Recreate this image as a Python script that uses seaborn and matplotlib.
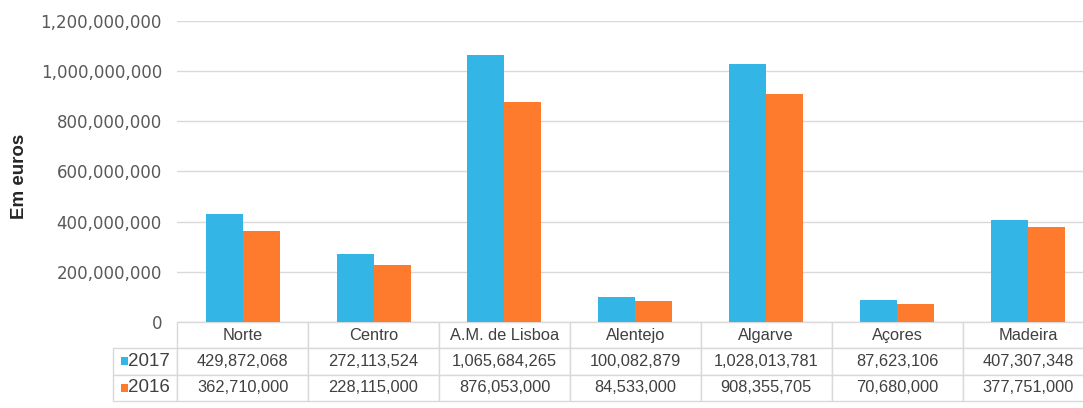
import matplotlib
matplotlib.use("Agg")
import matplotlib.pyplot as plt
import matplotlib.ticker as mticker
from matplotlib.patches import Rectangle
import seaborn as sns
import pandas as pd

regions = ["Norte", "Centro", "A.M. de Lisboa", "Alentejo", "Algarve", "Açores", "Madeira"]
years = ["2017", "2016"]
values_2017 = [429872068, 272113524, 1065684265, 100082879, 1028013781, 87623106, 407307348]
values_2016 = [362710000, 228115000, 876053000, 84533000, 908355705, 70680000, 377751000]
colors = ["#33b5e6", "#fe7a2d"]
y_ticks = [0, 200000000, 400000000, 600000000, 800000000, 1000000000, 1200000000]
y_label = "Em euros"

df = pd.DataFrame({
    "region": regions * 2,
    "year": [years[0]] * len(regions) + [years[1]] * len(regions),
    "value": values_2017 + values_2016,
})

sns.set_style("white")
plt.rcParams["font.family"] = ["DejaVu Sans"]

fig = plt.figure(figsize=(10.83, 4.08), dpi=100)
ax = fig.add_axes([0.1636, 0.2108, 0.8461, 0.7382])

sns.barplot(data=df, x="region", y="value", hue="year", hue_order=years,
            order=regions, palette=colors, saturation=1, width=0.565,
            legend=False, ax=ax, errorbar=None, linewidth=0)

ax.set_xlim(-0.5, len(regions) - 0.5)
ax.set_ylim(0, 1.2e9)
ax.set_yticks(y_ticks)
ax.yaxis.set_major_formatter(mticker.FuncFormatter(lambda v, p: f"{int(v):,}"))
ax.tick_params(axis="y", length=0, pad=11, labelsize=12, labelcolor="#595959")
ax.set_xticks([])
ax.set_xlabel("")
ax.set_ylabel(y_label, fontsize=13.5, fontweight="bold", color="#262626",
              family="Liberation Sans")
ax.yaxis.set_label_coords(-0.163, 0.483)
ax.grid(axis="y", color="#d9d9d9", linewidth=1)
ax.set_axisbelow(True)
for s in ax.spines.values():
    s.set_visible(False)

# data table
fmt = lambda v: f"{v:,}"
cell_text = [[""] + regions,
             [""] + [fmt(v) for v in values_2017],
             [""] + [fmt(v) for v in values_2016]]
first_w = (177.2 - 113) / 916.3
col_widths = [first_w] + [1 / len(regions)] * len(regions)
tab_h = 79 / 301.2
tbl = ax.table(cellText=cell_text, colWidths=col_widths, cellLoc="center",
               bbox=[-first_w, -tab_h, 1 + first_w, tab_h])
tbl.auto_set_font_size(False)
tbl.set_fontsize(11.8)
for (r, c), cell in tbl.get_celld().items():
    cell.set_edgecolor("#d9d9d9")
    cell.set_linewidth(1)
    cell.get_text().set_color("#404040")
    cell.get_text().set_family("Liberation Sans")
    if r == 0 and c == 0:
        cell.visible_edges = ""

# row labels with colored squares
px_x = 1 / 916.3
px_y = 1 / 301.2
row_centers = [-(tab_h * 1.5 / 3), -(tab_h * 2.5 / 3)]
for yr, col, yc in zip(years, colors, row_centers):
    ax.add_patch(Rectangle((-(177.2 - 121.5) * px_x, yc - 4 * px_y), 7 * px_x, 8 * px_y,
                           transform=ax.transAxes, facecolor=col, edgecolor="none",
                           clip_on=False))
    ax.text(-(177.2 - 128.5) * px_x, yc, yr, transform=ax.transAxes, ha="left",
            va="center", fontsize=13.5, color="#404040", family="Liberation Sans")

fig.savefig("out.png", dpi=100)
